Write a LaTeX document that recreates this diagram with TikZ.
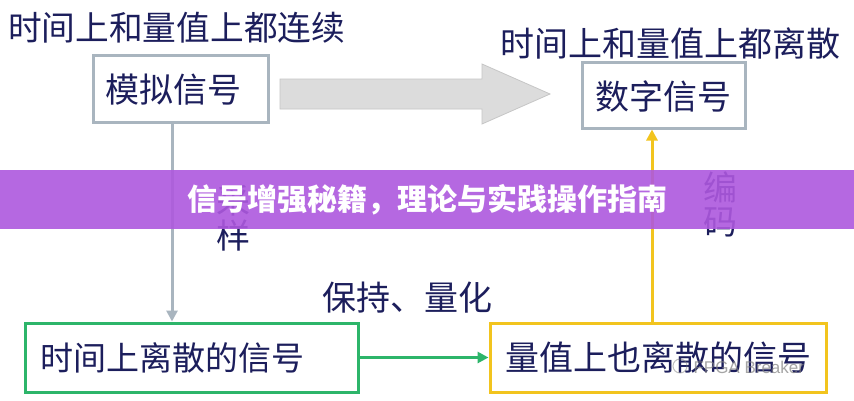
\documentclass[tikz,border=0pt]{standalone}
\usepackage{fontspec}
\newfontfamily\cjk{Noto Sans CJK SC}
\setsansfont{Liberation Sans}
\usetikzlibrary{arrows.meta}
\definecolor{navy}{HTML}{1C1E5C}
\definecolor{boxgray}{HTML}{A9B5BF}
\definecolor{arrgray}{HTML}{DCDCDC}
\definecolor{arrgrayd}{HTML}{C6C6C6}
\definecolor{grn}{HTML}{2DB56A}
\definecolor{ylw}{HTML}{F2C41E}
\definecolor{bannerc}{HTML}{AE58DE}
\begin{document}
\begin{tikzpicture}[x=1pt,y=-1pt,
  lbl/.style={font=\cjk\fontsize{34}{38}\selectfont, text=navy, inner sep=0pt},
  frame/.style={draw, line width=3pt, fill=white, inner sep=0pt},
  conn/.style={line width=3pt, -{Triangle[length=11pt,width=11pt]}}]
\useasboundingbox (0,0) rectangle (854,400);
\fill[white] (0,0) rectangle (854,400);

% titles
\node[lbl, font=\cjk\fontsize{33.7}{38}\selectfont, anchor=west] (tl) at (8,28) {时间上和量值上都连续};
\node[lbl, anchor=west] (tr) at (500,43) {时间上和量值上都离散};

% boxes
\node[frame, draw=boxgray, minimum width=175pt, minimum height=67pt] (m) at (180.5,88.5) {};
\node[lbl, anchor=west] (mt) at (105,90) {模拟信号};
\node[frame, draw=boxgray, minimum width=163pt, minimum height=66pt] (d) at (663.5,95) {};
\node[lbl] (dt) at (663,97) {数字信号};
\node[frame, draw=grn, minimum width=333pt, minimum height=69pt] (g) at (191.5,357.5) {};
\node[lbl, font=\cjk\fontsize{33}{38}\selectfont, anchor=west] (gt) at (40,358) {时间上离散的信号};
\node[frame, draw=ylw, minimum width=336pt, minimum height=69pt] (y) at (658,357.5) {};
\node[lbl] (yt) at (658,358) {量值上也离散的信号};

% big block arrow
\draw[fill=arrgray, draw=arrgrayd, line width=0.8pt]
  (280,79) -- (482,79) -- (482,64) -- (550,94) -- (482,124) -- (482,109) -- (280,109) -- cycle;

% connectors
\coordinate (sx) at (172,0);
\coordinate (ex) at (652,0);
\draw[conn, draw=boxgray, fill=boxgray] (m.south -| sx) -- (g.north -| sx);
\draw[conn, draw=grn, fill=grn] (g.east) -- (y.west);
\draw[conn, draw=ylw, fill=ylw] (y.north -| ex) -- (d.south -| ex);

% edge labels
\node[lbl] (c1) at (233,201) {采};
\node[lbl] (c2) at (233,236) {样};
\node[lbl] (e1) at (720,187) {编};
\node[lbl] (e2) at (720,222) {码};
\node[lbl, anchor=west] (q) at (322,298) {保持、量化};

% watermark
\node[font=\sffamily\fontsize{17}{20}\selectfont, text=gray, opacity=0.7, anchor=west] (wm) at (690,367) {FPGA Breaker};
\draw[gray, opacity=0.5, line width=1pt] (680,366) circle (7pt);

% banner
\fill[bannerc, fill opacity=0.9] (0,170) rectangle (854,229);
\node[font=\cjk\bfseries\fontsize{30}{34}\selectfont, text=white, inner sep=0pt] (bt) at (427,200) {信号增强秘籍，理论与实践操作指南};
\end{tikzpicture}
\end{document}
